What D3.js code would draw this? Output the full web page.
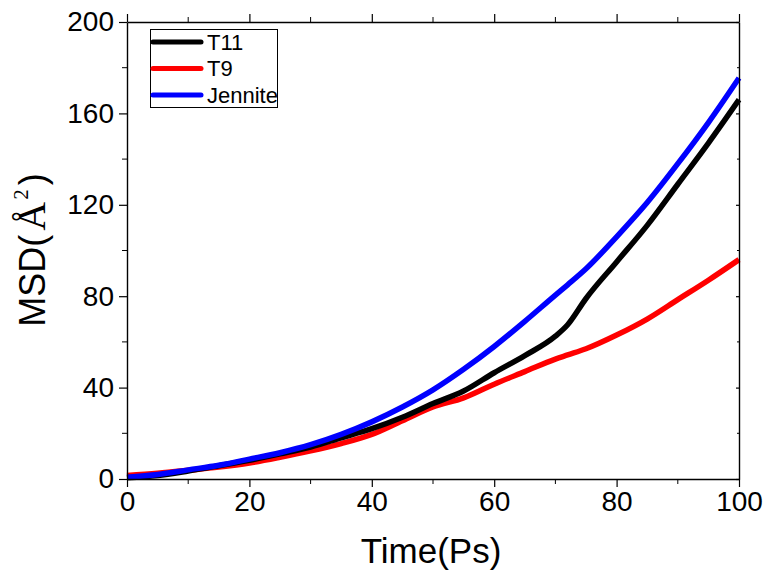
<!DOCTYPE html>
<html><head><meta charset="utf-8">
<script src="https://cdn.jsdelivr.net/npm/d3@7"></script>
<style>body{margin:0;background:#fff}svg{display:block}text{font-family:"Liberation Sans",Arial,sans-serif}</style>
</head><body><svg id="c" width="764" height="577"></svg>
<script>
const time = [0,5,10,15,20,25,30,35,40,45,50,55,60,65,70,72,75,80,85,90,95,100];
const t11 = [0.5,1.5,3.5,5.8,8.2,11,14,18,22,27,33,38.5,46.5,54,62.5,67.5,79,95,111,129,147,166];
const t9 = [1.5,2.5,3.8,5.2,7,9.5,12.3,15.5,19.5,25.5,31.5,35.5,41.5,47,52.5,54.3,57,63,70,78.5,87,96];
const jennite = [0.8,2,4,6,8.7,11.5,15,19.5,25,31.5,39,48,58,69,80.5,85,92,106,121,138,156,175.5];
const seriesNames = ["T11","T9","Jennite"];
const seriesColors = ["#000000","#ff0000","#0000ff"];
const xTicks = [0,20,40,60,80,100];
const yTicks = [0,40,80,120,160,200];

const svg = d3.select("#c");
const L=127,R=739,T=22,B=479;
const x = d3.scaleLinear().domain([0,100]).range([L,R]);
const y = d3.scaleLinear().domain([0,200]).range([B,T]);

const series=[t11,t9,jennite];
const line = d3.line().x((d,i)=>x(time[i])).y(d=>y(d)).curve(d3.curveMonotoneX);
// draw order: red, black, blue
[1,0,2].forEach(k=>{
  svg.append("path").datum(series[k]).attr("d",line).attr("fill","none")
    .attr("stroke",seriesColors[k]).attr("stroke-width",5.5).attr("stroke-linejoin","round");
});

// axes
const ax = svg.append("g");
const minorX = d3.range(10,100,20), minorY = d3.range(20,200,40);
// bottom
const gb = ax.append("g").attr("transform",`translate(0,${B})`)
  .call(d3.axisBottom(x).tickValues(xTicks).tickSize(8).tickPadding(4).tickSizeOuter(0));
gb.selectAll("text").attr("font-size",28).attr("fill","#000").attr("dy","0.72em");
gb.append("g").selectAll("line").data(minorX).join("line").attr("x1",d=>x(d)).attr("x2",d=>x(d)).attr("y1",0).attr("y2",5).attr("stroke","#000");
// left
const gl = ax.append("g").attr("transform",`translate(${L},0)`)
  .call(d3.axisLeft(y).tickValues(yTicks).tickSize(8).tickPadding(5).tickSizeOuter(0));
gl.selectAll("text").attr("font-size",28).attr("fill","#000");
gl.append("g").selectAll("line").data(minorY).join("line").attr("y1",d=>y(d)).attr("y2",d=>y(d)).attr("x1",0).attr("x2",-5).attr("stroke","#000");
// top
const gt = ax.append("g").attr("transform",`translate(0,${T})`)
  .call(d3.axisTop(x).tickValues(xTicks).tickSize(8).tickFormat("").tickSizeOuter(0));
gt.append("g").selectAll("line").data(minorX).join("line").attr("x1",d=>x(d)).attr("x2",d=>x(d)).attr("y1",0).attr("y2",-5).attr("stroke","#000");
// right
const gr = ax.append("g").attr("transform",`translate(${R},0)`)
  .call(d3.axisLeft(y).tickValues(yTicks).tickSize(3).tickFormat("").tickSizeOuter(0));
gr.append("g").selectAll("line").data(minorY).join("line").attr("y1",d=>y(d)).attr("y2",d=>y(d)).attr("x1",0).attr("x2",-2).attr("stroke","#000");
ax.selectAll(".domain").attr("stroke","#000").attr("stroke-width",1.4);
ax.selectAll(".tick line").attr("stroke","#000").attr("stroke-width",1.2);

// axis titles
svg.append("text").attr("x",(L+R)/2-2).attr("y",563).attr("text-anchor","middle")
  .attr("font-size",35).text("Time(Ps)");
const yt = svg.append("text").attr("transform","translate(45,250) rotate(-90)")
  .attr("text-anchor","middle").attr("font-size",36);
yt.append("tspan").text("MSD(");
yt.append("tspan").attr("font-family","'Liberation Serif','Times New Roman',serif").attr("font-size",40).attr("dx",4).text("Å");
yt.append("tspan").attr("font-family","'Liberation Serif','Times New Roman',serif").attr("font-size",21).attr("dy",-17).attr("dx",2).text("2");
yt.append("tspan").attr("dy",17).attr("dx",4).text(")");

// legend
const lg = svg.append("g");
lg.append("rect").attr("x",150.5).attr("y",29.5).attr("width",127).attr("height",78)
  .attr("fill","#fff").attr("stroke","#000").attr("stroke-width",1);
seriesNames.forEach((n,i)=>{
  const yy = 42 + i*26.5;
  lg.append("line").attr("x1",153).attr("x2",201).attr("y1",yy).attr("y2",yy)
    .attr("stroke",seriesColors[i]).attr("stroke-width",5).attr("stroke-linecap","round");
  lg.append("text").attr("x",207).attr("y",yy).attr("dy","0.36em").attr("font-size",22).text(n);
});
</script></body></html>
